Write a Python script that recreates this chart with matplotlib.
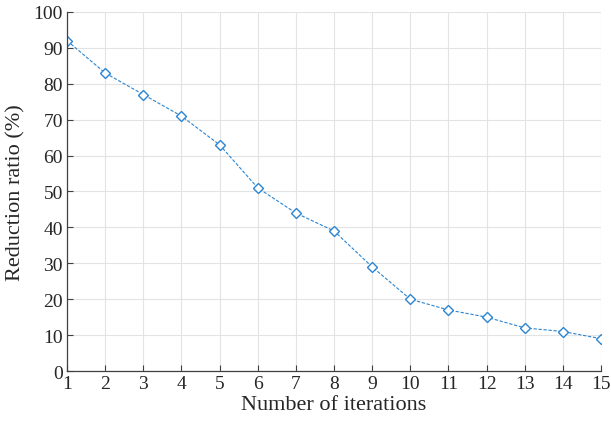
import matplotlib
matplotlib.use("Agg")
import matplotlib.pyplot as plt

iterations = list(range(1, 16))
reduction = [92, 83, 77, 71, 63, 51, 44, 39, 29, 20, 17, 15, 12, 11, 9]
yticks = list(range(0, 101, 10))

plt.rcParams['font.family'] = ['Liberation Serif', 'DejaVu Serif']

fig = plt.figure(figsize=(6.11, 4.27), dpi=100)
ax = fig.add_axes([0.1097, 0.1288, 0.8740, 0.8408])

ax.plot(iterations, reduction, color="#2b85d0", linestyle=(0, (3, 1.5)), linewidth=0.8,
        marker="D", markersize=5.5, markerfacecolor="white", markeredgecolor="#2b85d0",
        markeredgewidth=1.0)

ax.set_xlim(1, 15)
ax.set_ylim(0, 100)
ax.set_xticks(iterations)
ax.set_yticks(yticks)
ax.grid(True, color="#e3e3e3", linewidth=0.8)
ax.set_axisbelow(True)
for s in ["top", "right"]:
    ax.spines[s].set_visible(False)
for s in ["left", "bottom"]:
    ax.spines[s].set_color("#404040")
    ax.spines[s].set_linewidth(0.9)
ax.tick_params(direction="in", length=4, color="#404040", labelsize=14, labelcolor="#262626", pad=3)
ax.set_xlabel("Number of iterations", fontsize=16, color="#262626", labelpad=2)
ax.set_ylabel("Reduction ratio (%)", fontsize=16, color="#262626", labelpad=6)

fig.savefig("out.png", dpi=100)
